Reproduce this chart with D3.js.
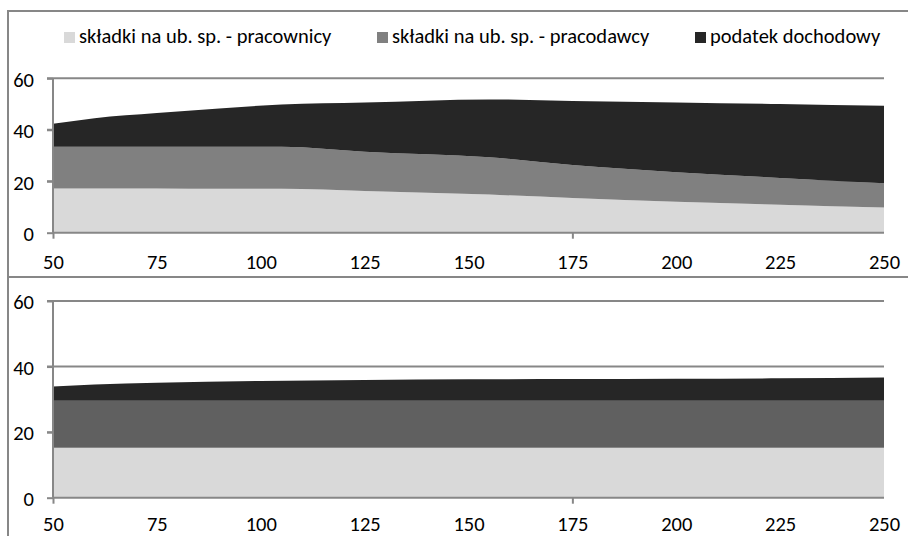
<!DOCTYPE html>
<html>
<head>
<meta charset="utf-8">
<script src="https://cdn.jsdelivr.net/npm/d3@7"></script>
<style>
  body { margin: 0; background: #fff; }
  svg text { font-family: Carlito, Lato, sans-serif; fill: #000; }
</style>
</head>
<body>
<div id="chart"></div>
<script>
// series names (legend)
var seriesNames = ["składki na ub. sp. - pracownicy", "składki na ub. sp. - pracodawcy", "podatek dochodowy"];

// top panel - wage levels and the three stacked components
var topWages = [50, 60, 75, 90, 105, 125, 155, 175, 200, 225, 250];
var topPracownicy = [17.2, 17.2, 17.2, 17.1, 17.1, 16.2, 14.8, 13.5, 12.0, 10.9, 9.8];
var topPracodawcy = [16.2, 16.2, 16.2, 16.3, 16.3, 15.3, 14.5, 12.8, 11.5, 10.4, 9.4];
var topPodatek = [8.9, 11.1, 13.1, 14.9, 16.4, 19.1, 22.5, 24.9, 27.1, 28.7, 30.1];

// bottom panel
var bottomWages = [50, 60, 75, 100, 125, 150, 175, 200, 225, 250];
var bottomPracownicy = [15.2, 15.2, 15.2, 15.2, 15.2, 15.2, 15.2, 15.2, 15.2, 15.2];
var bottomPracodawcy = [14.4, 14.4, 14.4, 14.4, 14.4, 14.4, 14.4, 14.4, 14.4, 14.4];
var bottomPodatek = [4.3, 4.9, 5.5, 6.0, 6.3, 6.5, 6.6, 6.7, 6.8, 7.1];

// axis labels
var yTicks = [0, 20, 40, 60];
var xTickLabels = [50, 75, 100, 125, 150, 175, 200, 225, 250];
var xTickMarks = [50, 175];

var width = 908, height = 536;
var axisColor = "#878787";
var fontSize = "20.5px";

var svg = d3.select("#chart").append("svg")
    .attr("width", width)
    .attr("height", height);

// frame lines of the two chart boxes
svg.append("line").attr("x1", 8).attr("x2", width).attr("y1", 11).attr("y2", 11)
    .attr("stroke", axisColor).attr("stroke-width", 2);
svg.append("line").attr("x1", 8).attr("x2", width).attr("y1", 277).attr("y2", 277)
    .attr("stroke", axisColor).attr("stroke-width", 2);
svg.append("line").attr("x1", 8).attr("x2", 8).attr("y1", 10).attr("y2", height)
    .attr("stroke", axisColor).attr("stroke-width", 2);

// legend
var legendX = [64, 377, 695];
var legendColors = ["#d9d9d9", "#808080", "#262626"];
var legend = svg.append("g");
seriesNames.forEach(function(name, i) {
    legend.append("rect")
        .attr("x", legendX[i]).attr("y", 32)
        .attr("width", 11).attr("height", 11)
        .attr("fill", legendColors[i]);
    legend.append("text")
        .attr("x", legendX[i] + 15).attr("y", 43)
        .style("font-size", fontSize)
        .text(name);
});

function drawPanel(wages, a, b, c, top, bottom, colors, labelPad) {
    var x = d3.scaleLinear().domain([50, 250]).range([53, 884]);
    var y = d3.scaleLinear().domain([0, 60]).range([bottom, top]);

    var rows = wages.map(function(w, i) {
        return { wage: w, a: a[i], b: b[i], c: c[i] };
    });
    var stacked = d3.stack().keys(["a", "b", "c"])(rows);

    var g = svg.append("g");

    // gridlines
    g.selectAll(".grid")
        .data(yTicks.filter(function(t) { return t > 0; }))
        .join("line")
        .attr("x1", 47).attr("x2", 884)
        .attr("y1", function(d) { return y(d); })
        .attr("y2", function(d) { return y(d); })
        .attr("stroke", axisColor).attr("stroke-width", 2);

    var area = d3.area()
        .x(function(d) { return x(d.data.wage); })
        .y0(function(d) { return y(d[0]); })
        .y1(function(d) { return y(d[1]); })
        .curve(d3.curveMonotoneX);

    g.selectAll(".layer")
        .data(stacked)
        .join("path")
        .attr("d", area)
        .attr("fill", function(d, i) { return colors[i]; });

    // y axis
    var yAxis = g.append("g")
        .attr("transform", "translate(53,0)")
        .call(d3.axisLeft(y).tickValues(yTicks).tickSize(6).tickPadding(13));
    yAxis.select(".domain").remove();
    yAxis.selectAll(".tick line").attr("stroke", axisColor).attr("stroke-width", 2);
    yAxis.selectAll("text").style("font-size", fontSize).attr("dy", "0.38em");
    g.append("line").attr("x1", 53).attr("x2", 53).attr("y1", y(60)).attr("y2", y(0))
        .attr("stroke", axisColor).attr("stroke-width", 2);

    // x axis: labels every 25, tick marks only at a few places
    var xLabels = g.append("g")
        .attr("transform", "translate(0," + y(0) + ")")
        .call(d3.axisBottom(x).tickValues(xTickLabels).tickSize(0).tickPadding(labelPad));
    xLabels.select(".domain").remove();
    xLabels.selectAll("text").style("font-size", fontSize);

    var xMarks = g.append("g")
        .attr("transform", "translate(0," + y(0) + ")")
        .call(d3.axisBottom(x).tickValues(xTickMarks).tickSize(6).tickFormat(""));
    xMarks.select(".domain").remove();
    xMarks.selectAll(".tick line").attr("stroke", axisColor).attr("stroke-width", 2);

    g.append("line").attr("x1", 53).attr("x2", 884).attr("y1", y(0)).attr("y2", y(0))
        .attr("stroke", axisColor).attr("stroke-width", 2);
}

drawPanel(topWages, topPracownicy, topPracodawcy, topPodatek, 78.3, 232.7,
    ["#d9d9d9", "#808080", "#262626"], 22);
drawPanel(bottomWages, bottomPracownicy, bottomPracodawcy, bottomPodatek, 301, 497.7,
    ["#d9d9d9", "#606060", "#262626"], 19);
</script>
</body>
</html>
